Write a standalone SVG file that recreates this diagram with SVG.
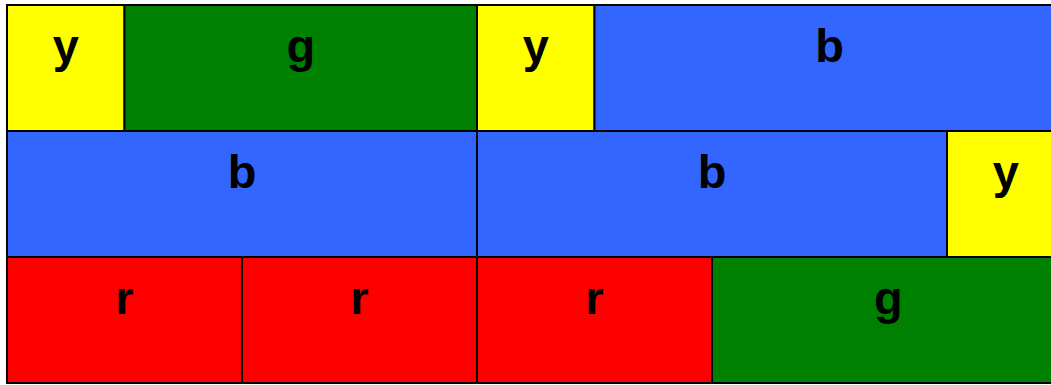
<svg xmlns="http://www.w3.org/2000/svg" width="1051" height="385" viewBox="0 0 1051 385">
<style>
.c{stroke:#000;stroke-width:2}
.y{fill:#ffff00}.g{fill:#008000}.b{fill:#3366ff}.r{fill:#ff0000}
text{font-family:"Liberation Sans",Arial,sans-serif;font-weight:bold;font-size:47px;text-anchor:middle;fill:#000}
</style>
<rect width="1051" height="385" fill="#fff"/>
<g id="n1"><rect class="c y" x="7" y="5" width="117.5" height="126"/><text x="65.75" y="62">y</text></g>
<g id="n2"><rect class="c g" x="124.5" y="5" width="352.5" height="126"/><text x="300.75" y="62">g</text></g>
<g id="n3"><rect class="c y" x="477" y="5" width="117.5" height="126"/><text x="535.75" y="62">y</text></g>
<g id="n4"><rect class="c b" x="594.5" y="5" width="470" height="126"/><text x="829.5" y="62">b</text></g>
<g id="n5"><rect class="c b" x="7" y="131" width="470" height="126"/><text x="242" y="188">b</text></g>
<g id="n6"><rect class="c b" x="477" y="131" width="470" height="126"/><text x="712" y="188">b</text></g>
<g id="n7"><rect class="c y" x="947" y="131" width="117.5" height="126"/><text x="1005.75" y="188">y</text></g>
<g id="n8"><rect class="c r" x="7" y="257" width="235" height="126"/><text x="124.5" y="314">r</text></g>
<g id="n9"><rect class="c r" x="242" y="257" width="235" height="126"/><text x="359.5" y="314">r</text></g>
<g id="n10"><rect class="c r" x="477" y="257" width="235" height="126"/><text x="594.5" y="314">r</text></g>
<g id="n11"><rect class="c g" x="712" y="257" width="352.5" height="126"/><text x="888.25" y="314">g</text></g>
<g id="connectors"/>
</svg>
